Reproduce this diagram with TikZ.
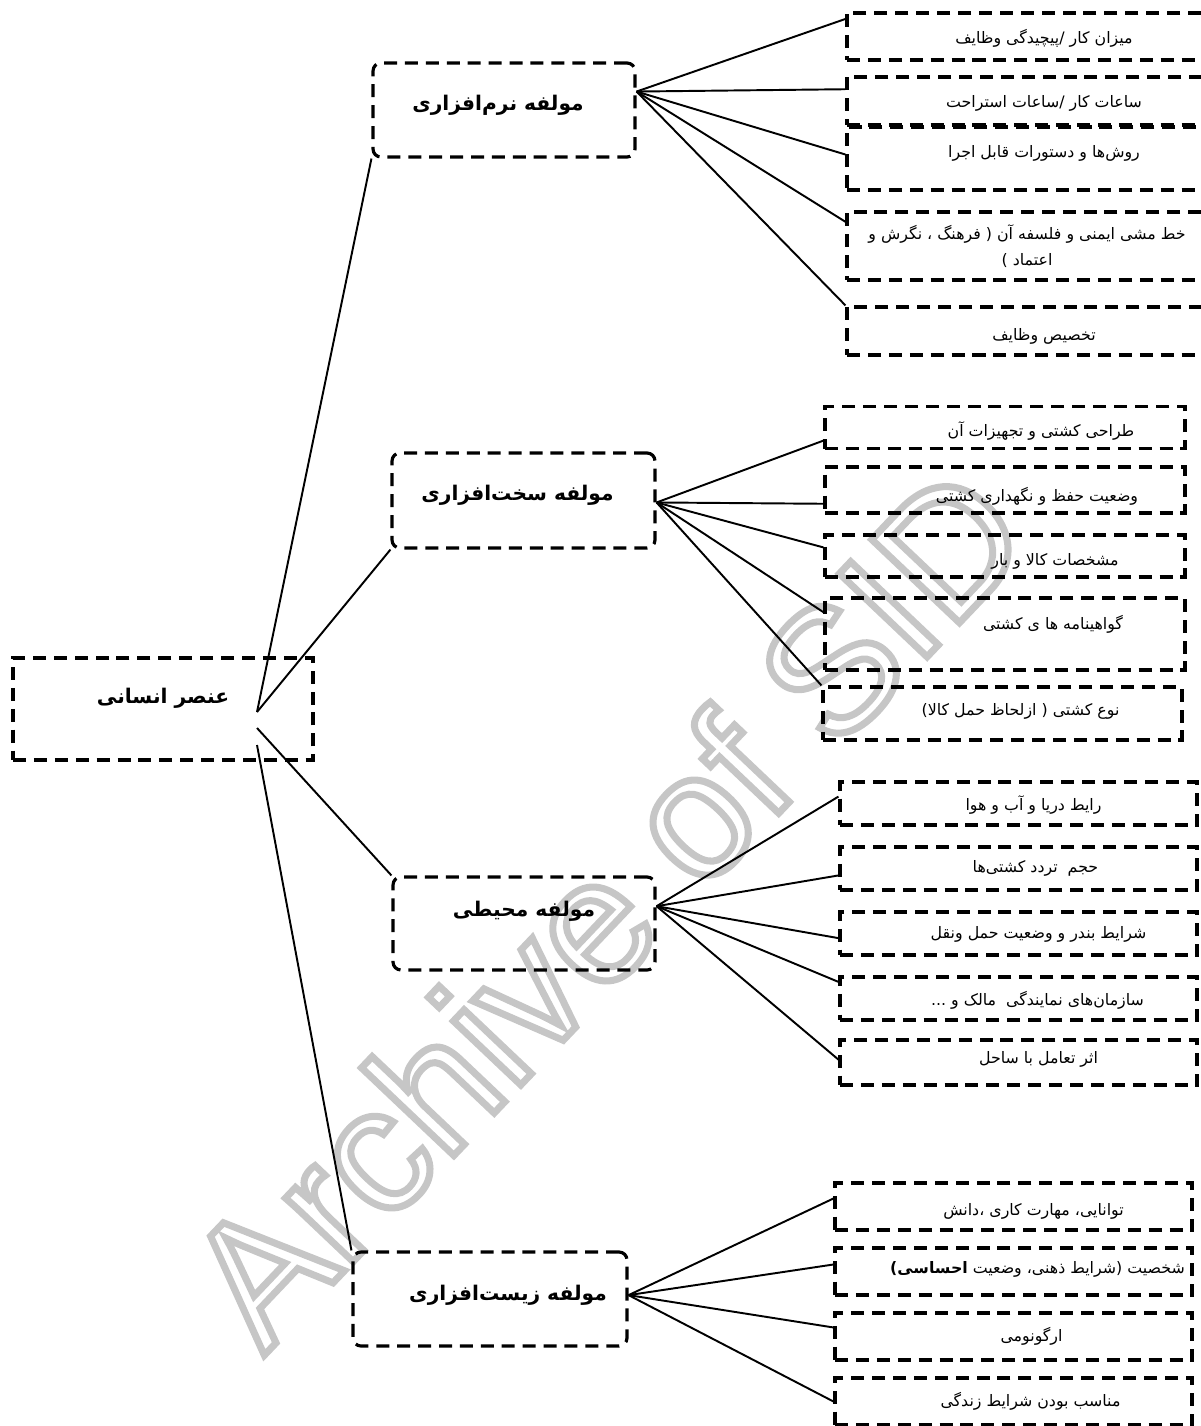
\documentclass[tikz,border=0pt]{standalone}
\usepackage{fontspec}
\usetikzlibrary{calc}
\TeXXeTstate=1
\newfontfamily\fa[Script=Arabic]{DejaVu Sans}
\newfontfamily\wmfont{Liberation Sans}
\definecolor{wmgray}{RGB}{198,198,198}
% hollow letters for the watermark
\newcommand{\hollow}[1]{\special{pdf:literal direct 1 Tr 4 w}#1\special{pdf:literal direct 0 Tr}}
\tikzset{
  box/.style={draw, line width=1.8pt, dash pattern=on 7.4pt off 4.5pt, inner sep=0pt},
  rootbox/.style={box, minimum width=6cm, minimum height=2.04cm},
  partbox/.style={box, rounded corners=4.5pt},
  itembox/.style={box},
  parttext/.style={font=\fa\bfseries\fontsize{11.5}{15}\selectfont, inner sep=0pt},
  itemtext/.style={font=\fa\fontsize{9}{15}\selectfont, inner sep=0pt, align=center},
}
\begin{document}
\begin{tikzpicture}[x=0.02cm, y=-0.02cm]
  \useasboundingbox (0,0) rectangle (1200,1426);
  % watermark
  \node[rotate=46.5, text=wmgray, font=\wmfont\fontsize{100}{100}\selectfont] (wm) at (605,905) {\hollow{Archive of SID}};
  % main boxes
  \draw
    (163,709) node[rootbox, label={[parttext, shift={(0,-11)}]center:{\beginR عنصر انسانی\endR}}] (root) {}
    (504,110) node[partbox, minimum width=5.24cm, minimum height=1.88cm, label={[parttext, shift={(-6,-5)}]center:{\beginR مولفه نرم^^^^200cافزاری\endR}}] (sw) {}
    (523.5,500.5) node[partbox, minimum width=5.26cm, minimum height=1.9cm, label={[parttext, shift={(-6,-5)}]center:{\beginR مولفه سخت^^^^200cافزاری\endR}}] (hw) {}
    (524,923.5) node[partbox, minimum width=5.24cm, minimum height=1.86cm, label={[parttext, shift={(0,-12)}]center:{\beginR مولفه محیطی\endR}}] (env) {}
    (490,1299) node[partbox, minimum width=5.48cm, minimum height=1.88cm, label={[parttext, shift={(18,-4)}]center:{\beginR مولفه زیست^^^^200cافزاری\endR}}] (bio) {};
  % software items
  \draw
    (1044,36.5) node[itembox, minimum width=7.88cm, minimum height=.94cm, label={[itemtext, shift={(0,2)}]center:{\beginR میزان کار /پیچیدگی وظایف\endR}}] (sw1) {}
    (1044,101) node[itembox, minimum width=7.88cm, minimum height=.96cm, label={[itemtext, shift={(0,2)}]center:{\beginR ساعات کار /ساعات استراحت\endR}}] (sw2) {}
    (1044,158.5) node[itembox, minimum width=7.88cm, minimum height=1.26cm, label={[itemtext, shift={(0,-5)}]center:{\beginR روش^^^^200cها و دستورات قابل اجرا\endR}}] (sw3) {}
    (1044,246) node[itembox, minimum width=7.88cm, minimum height=1.36cm, label={[itemtext, shift={(-17,0)}]center:{\beginR خط مشی ایمنی و فلسفه آن ( فرهنگ ، نگرش و\endR\\\beginR اعتماد )\endR}}] (sw4) {}
    (1044,331) node[itembox, minimum width=7.88cm, minimum height=.96cm, label={[itemtext, shift={(0,5)}]center:{\beginR تخصیص وظایف\endR}}] (sw5) {};
  % hardware items
  \draw
    (1005,427.5) node[itembox, minimum width=7.2cm, minimum height=.84cm, label={[itemtext, shift={(36,4)}]center:{\beginR طراحی کشتی و تجهیزات آن\endR}}] (hw1) {}
    (1005,490) node[itembox, minimum width=7.2cm, minimum height=.92cm, label={[itemtext, shift={(32,6)}]center:{\beginR وضعیت حفظ و نگهداری کشتی\endR}}] (hw2) {}
    (1005,556) node[itembox, minimum width=7.2cm, minimum height=.84cm, label={[itemtext, shift={(50,5)}]center:{\beginR مشخصات کالا و بار\endR}}] (hw3) {}
    (1005,634) node[itembox, minimum width=7.2cm, minimum height=1.44cm, label={[itemtext, shift={(48,-10)}]center:{\beginR گواهینامه ها ی کشتی\endR}}] (hw4) {}
    (1002.5,713.5) node[itembox, minimum width=7.18cm, minimum height=1.06cm, label={[itemtext, shift={(18,-2)}]center:{\beginR نوع کشتی ( ازلحاظ حمل کالا)\endR}}] (hw5) {};
  % environment items
  \draw
    (1018.5,803.5) node[itembox, minimum width=7.14cm, minimum height=.86cm, label={[itemtext, shift={(15,1)}]center:{\beginR رایط دریا و آب و هوا\endR}}] (env1) {}
    (1018.5,868.5) node[itembox, minimum width=7.14cm, minimum height=.86cm, label={[itemtext, shift={(17,0)}]center:{\beginR حجم\ \ تردد کشتی^^^^200cها\endR}}] (env2) {}
    (1018.5,933.5) node[itembox, minimum width=7.14cm, minimum height=.86cm, label={[itemtext, shift={(20,1)}]center:{\beginR شرایط بندر و وضعیت حمل ونقل\endR}}] (env3) {}
    (1018.5,998.5) node[itembox, minimum width=7.14cm, minimum height=.86cm, label={[itemtext, shift={(19,2)}]center:{\beginR سازمان^^^^200cهای نمایندگی\ \ مالک و ...\endR}}] (env4) {}
    (1018.5,1062.5) node[itembox, minimum width=7.14cm, minimum height=.9cm, label={[itemtext, shift={(20,-3)}]center:{\beginR اثر تعامل با ساحل\endR}}] (env5) {};
  % bio items
  \draw
    (1013.5,1206.5) node[itembox, minimum width=7.14cm, minimum height=.94cm, label={[itemtext, shift={(20,5)}]center:{\beginR توانایی، مهارت کاری ،دانش\endR}}] (bio1) {}
    (1013.5,1271.5) node[itembox, minimum width=7.14cm, minimum height=.94cm, label={[itemtext, shift={(24,-2)}]center:{\beginR شخصیت (شرایط ذهنی، وضعیت {\bfseries احساسی)}\endR}}] (bio2) {}
    (1013.5,1336.5) node[itembox, minimum width=7.14cm, minimum height=.94cm, label={[itemtext, shift={(18,0)}]center:{\beginR ارگونومی\endR}}] (bio3) {}
    (1013.5,1401.5) node[itembox, minimum width=7.14cm, minimum height=.94cm, label={[itemtext, shift={(17,0)}]center:{\beginR مناسب بودن شرایط زندگی\endR}}] (bio4) {};
  % hubs
  \coordinate (ra) at (257,712);
  \coordinate (rb) at (257,728);
  \coordinate (rc) at (257,745);
  \coordinate (swhub) at ($(sw.north east)!.31!(sw.south east)$);
  \coordinate (hwhub) at ($(hw.north east)!.52!(hw.south east)$);
  \coordinate (envhub) at ($(env.north east)!.32!(env.south east)$);
  \coordinate (biohub) at ($(bio.north east)!.46!(bio.south east)$);
  \begin{scope}[line width=1.1pt]
    \draw (ra) to (sw.south west);
    \draw (ra) to (hw.south west);
    \draw (rb) to (env.north west);
    \draw (rc) to (bio.north west);
    \draw (swhub) to ($(sw1.north west)!.15!(sw1.south west)$);
    \draw (swhub) to ($(sw2.north west)!.27!(sw2.south west)$);
    \draw (swhub) to ($(sw3.north west)!.44!(sw3.south west)$);
    \draw (swhub) to ($(sw4.north west)!.16!(sw4.south west)$);
    \draw (swhub) to (sw5.north west);
    \draw (hwhub) to ($(hw1.north west)!.79!(hw1.south west)$);
    \draw (hwhub) to ($(hw2.north west)!.78!(hw2.south west)$);
    \draw (hwhub) to ($(hw3.north west)!.31!(hw3.south west)$);
    \draw (hwhub) to ($(hw4.north west)!.21!(hw4.south west)$);
    \draw (hwhub) to (hw5.north west);
    \draw (envhub) to ($(env1.north west)!.35!(env1.south west)$);
    \draw (envhub) to ($(env2.north west)!.65!(env2.south west)$);
    \draw (envhub) to ($(env3.north west)!.6!(env3.south west)$);
    \draw (envhub) to ($(env4.north west)!.14!(env4.south west)$);
    \draw (envhub) to ($(env5.north west)!.44!(env5.south west)$);
    \draw (biohub) to ($(bio1.north west)!.34!(bio1.south west)$);
    \draw (biohub) to ($(bio2.north west)!.36!(bio2.south west)$);
    \draw (biohub) to ($(bio3.north west)!.32!(bio3.south west)$);
    \draw (biohub) to ($(bio4.north west)!.5!(bio4.south west)$);
  \end{scope}
\end{tikzpicture}
\end{document}
